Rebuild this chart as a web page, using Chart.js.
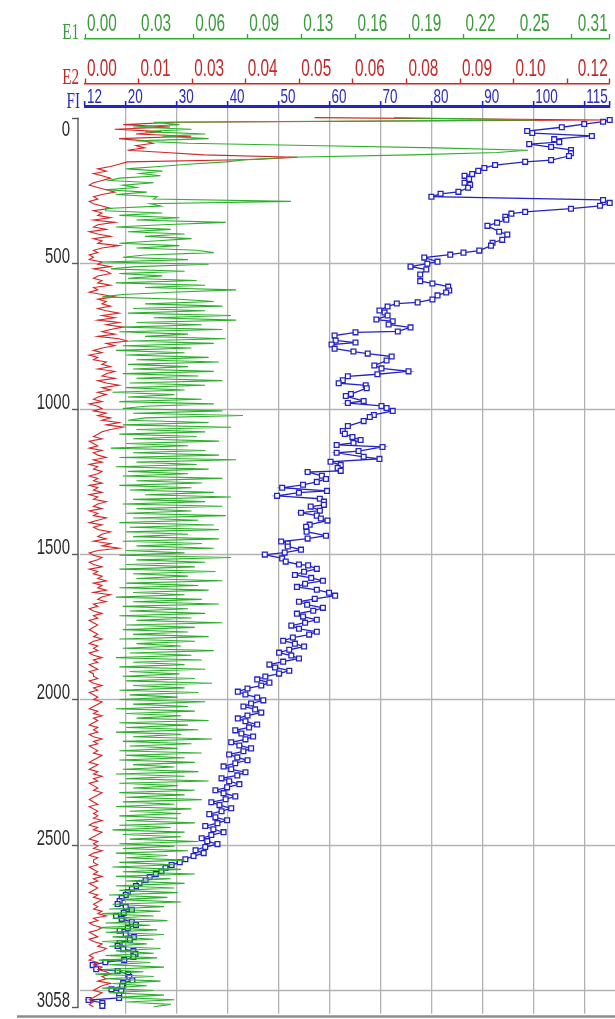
<!DOCTYPE html>
<html>
<head>
<meta charset="utf-8">
<script src="https://cdn.jsdelivr.net/npm/chart.js@4.4.1/dist/chart.umd.min.js"></script>
<style>
  html, body { margin: 0; padding: 0; background: #ffffff; }
  #wrap { position: relative; width: 615px; height: 1019px; }
</style>
</head>
<body>
<div id="wrap"><canvas id="log" width="615" height="1019"></canvas></div>
<script>
// Depth sampling interval of the E1 / E2 curves (m)
const DEPTH_STEP = 8;

// E1 curve, one value per DEPTH_STEP starting at 0 m
const E1_VALUES = [
  0.180,0.262,0.040,0.055,0.028,0.062,0.035,0.070,0.045,0.072,0.030,0.060,0.130,0.205,0.258,0.240,0.190,0.120,0.095,0.082,
  0.060,0.043,0.024,0.045,0.032,0.044,0.020,0.014,0.040,0.022,0.030,0.012,0.036,0.018,0.042,0.040,0.120,0.038,0.044,0.012,
  0.012,0.045,0.020,0.055,0.030,0.082,0.045,0.018,0.050,0.025,0.058,0.035,0.062,0.040,0.020,0.055,0.030,0.065,0.075,0.035,
  0.022,0.060,0.010,0.072,0.030,0.015,0.058,0.020,0.045,0.025,0.065,0.018,0.070,0.035,0.088,0.050,0.022,0.010,0.055,0.075,
  0.035,0.080,0.028,0.070,0.025,0.085,0.040,0.088,0.030,0.068,0.022,0.080,0.020,0.060,0.035,0.082,0.026,0.075,0.022,0.062,
  0.018,0.058,0.024,0.072,0.030,0.078,0.025,0.060,0.028,0.075,0.022,0.066,0.030,0.080,0.026,0.070,0.024,0.058,0.016,0.052,
  0.025,0.068,0.020,0.075,0.035,0.022,0.080,0.028,0.092,0.035,0.025,0.072,0.022,0.085,0.030,0.070,0.020,0.065,0.028,0.078,
  0.024,0.060,0.015,0.070,0.028,0.078,0.020,0.088,0.030,0.065,0.018,0.072,0.025,0.060,0.022,0.080,0.030,0.068,0.020,0.062,
  0.026,0.075,0.035,0.085,0.028,0.070,0.022,0.080,0.030,0.062,0.024,0.082,0.028,0.066,0.020,0.075,0.026,0.078,0.024,0.060,
  0.028,0.078,0.022,0.068,0.030,0.075,0.024,0.058,0.020,0.085,0.030,0.070,0.024,0.064,0.020,0.076,0.028,0.060,0.030,0.080,
  0.024,0.066,0.020,0.072,0.028,0.058,0.018,0.068,0.028,0.078,0.022,0.060,0.026,0.070,0.020,0.062,0.030,0.080,0.024,0.064,
  0.022,0.060,0.028,0.072,0.020,0.064,0.030,0.056,0.022,0.075,0.026,0.062,0.018,0.068,0.028,0.058,0.020,0.070,0.026,0.055,
  0.022,0.064,0.024,0.074,0.028,0.058,0.020,0.066,0.026,0.054,0.020,0.070,0.028,0.060,0.018,0.064,0.024,0.056,0.030,0.072,
  0.020,0.060,0.024,0.066,0.018,0.056,0.028,0.074,0.022,0.062,0.026,0.054,0.020,0.068,0.024,0.058,0.020,0.064,0.028,0.052,
  0.022,0.066,0.018,0.058,0.024,0.072,0.020,0.054,0.028,0.064,0.020,0.058,0.024,0.068,0.022,0.052,0.018,0.062,0.026,0.056,
  0.020,0.054,0.024,0.064,0.020,0.050,0.016,0.058,0.022,0.056,0.026,0.066,0.020,0.052,0.022,0.060,0.018,0.048,0.024,0.058,
  0.020,0.052,0.016,0.056,0.022,0.064,0.018,0.050,0.024,0.058,0.018,0.052,0.020,0.054,0.014,0.048,0.020,0.056,0.016,0.046,
  0.014,0.044,0.010,0.040,0.016,0.048,0.012,0.038,0.008,0.042,0.012,0.046,0.016,0.040,0.010,0.036,0.014,0.044,0.018,0.040,
  0.012,0.042,0.008,0.038,0.014,0.046,0.010,0.034,0.006,0.040,0.012,0.044,0.016,0.036,0.010,0.040,0.014,0.046,0.018,0.052,0.024,0.050,0.040
];

// E2 curve, one value per DEPTH_STEP starting at 0 m
const E2_VALUES = [
  0.054,0.122,0.021,0.009,0.020,0.007,0.018,0.012,0.025,0.008,0.014,0.016,0.012,0.014,0.010,0.019,0.028,0.050,0.040,0.010,
  0.008,0.006,0.003,0.005,0.002,0.004,0.006,0.004,0.002,0.001,0.003,0.005,0.007,0.004,0.002,0.003,0.001,0.002,0.004,0.006,
  0.002,0.004,0.003,0.006,0.002,0.007,0.003,0.002,0.005,0.001,0.003,0.006,0.002,0.004,0.003,0.008,0.004,0.002,0.003,0.001,
  0.002,0.001,0.004,0.003,0.006,0.002,0.005,0.006,0.003,0.002,0.004,0.003,0.006,0.002,0.003,0.001,0.004,0.007,0.003,0.005,
  0.004,0.006,0.003,0.005,0.008,0.004,0.007,0.003,0.008,0.005,0.009,0.006,0.004,0.007,0.003,0.008,0.010,0.005,0.007,0.004,
  0.002,0.004,0.001,0.003,0.002,0.005,0.004,0.006,0.003,0.007,0.005,0.004,0.007,0.003,0.005,0.008,0.004,0.006,0.003,0.005,
  0.003,0.002,0.004,0.001,0.003,0.004,0.002,0.005,0.003,0.006,0.004,0.008,0.005,0.009,0.006,0.004,0.003,0.002,0.004,0.001,
  0.002,0.003,0.001,0.004,0.002,0.003,0.005,0.002,0.004,0.001,0.003,0.002,0.004,0.003,0.001,0.003,0.002,0.004,0.001,0.003,
  0.002,0.004,0.001,0.003,0.002,0.005,0.003,0.002,0.004,0.001,0.003,0.002,0.005,0.003,0.001,0.004,0.002,0.003,0.006,0.004,
  0.003,0.005,0.002,0.006,0.004,0.008,0.003,0.001,0.002,0.004,0.003,0.001,0.002,0.004,0.001,0.003,0.002,0.004,0.003,0.005,
  0.002,0.004,0.003,0.005,0.002,0.006,0.004,0.003,0.005,0.002,0.003,0.001,0.002,0.004,0.002,0.003,0.001,0.002,0.003,0.002,
  0.001,0.002,0.003,0.002,0.004,0.002,0.001,0.003,0.002,0.003,0.001,0.002,0.004,0.002,0.003,0.001,0.002,0.003,0.001,0.002,
  0.002,0.003,0.001,0.002,0.004,0.002,0.003,0.001,0.002,0.003,0.002,0.004,0.003,0.002,0.001,0.003,0.002,0.004,0.002,0.003,
  0.002,0.001,0.003,0.002,0.003,0.001,0.002,0.004,0.002,0.003,0.001,0.002,0.003,0.002,0.004,0.003,0.002,0.001,0.003,0.002,
  0.001,0.003,0.002,0.004,0.002,0.003,0.001,0.002,0.003,0.002,0.004,0.003,0.002,0.001,0.002,0.003,0.001,0.002,0.003,0.002,
  0.003,0.002,0.004,0.002,0.001,0.003,0.002,0.004,0.003,0.002,0.001,0.003,0.002,0.003,0.002,0.004,0.002,0.001,0.003,0.002,
  0.002,0.003,0.001,0.002,0.003,0.002,0.004,0.002,0.003,0.001,0.002,0.003,0.002,0.001,0.003,0.002,0.004,0.003,0.002,0.003,
  0.002,0.004,0.003,0.005,0.002,0.003,0.001,0.002,0.004,0.003,0.001,0.002,0.003,0.001,0.002,0.004,0.003,0.005,0.004,0.002,
  0.001,0.002,0.001,0.003,0.002,0.004,0.003,0.005,0.006,0.004,0.005,0.003,0.006,0.004,0.003,0.002,0.004,0.003,0.002,0.001,0.002,0.001,0.002
];

// FI samples: depth (m) and value
const FI_DEPTHS = [
  8,14,22,33,46,53,63,74,84,91,101,111,122,132,146,152,163,173,183,194,200,211,224,231,241,255,262,272,283,293,
  303,313,324,330,341,351,361,372,392,402,420,430,440,457,464,471,481,495,502,512,522,539,
  562,570,581,594,601,611,625,635,639,649,663,670,680,694,700,711,721,735,738,749,766,773,780,794,804,811,821,835,
  852,862,872,882,889,903,913,920,930,950,957,974,981,991,998,1008,1022,1029,1043,1060,1077,1087,1098,1108,1118,1125,
  1132,1146,1152,1166,1173,1183,1194,1204,1214,1218,1231,1242,1252,1262,1272,1283,1289,1300,1310,1320,1331,1337,1351,
  1358,1368,1378,1385,1399,1406,1423,1437,1447,1457,1464,1474,1485,1495,1502,1515,1526,1536,1539,
  1551,1561,1572,1582,1592,1602,1613,1623,1633,1643,1654,1664,1674,1685,1695,1705,1715,1726,1736,1746,
  1757,1767,1777,1787,1798,1808,1818,1829,1839,1849,1859,1870,1880,1890,1901,1911,1921,1931,1942,1952,
  1962,1973,1983,1993,2003,2014,2024,2034,2045,2055,2065,2075,2086,2096,2106,2117,2127,2137,2147,2158,
  2168,2178,2189,2199,2209,2219,2230,2240,2250,2261,2271,2281,2291,2302,2312,2322,2333,2343,2353,2363,
  2374,2384,2394,2405,2415,2425,2435,2446,2456,2466,2477,2487,2497,2507,2518,2528,2538,2549,2559,2569,
  2579,2590,2600,2610,2621,2631,2641,2651,2662,2672,2682,2693,2703,2713,2723,2734,2744,2754,2765,2775,
  2785,2795,2806,2816,2826,2837,2847,
  2858,2865,2875,2885,2896,2903,2913,2927,2933,2944,2954,2965,2975,2985,2996,3002,3016,3026,3033,3043,3053
];
const FI_VALUES = [
  115.0,113.7,110.0,105.6,98.8,99.8,111.5,104.1,105.1,99.2,103.5,107.4,107.4,107.0,103.5,98.4,92.5,90.4,89.2,88.0,86.5,87.4,86.5,87.6,87.2,85.3,81.8,80.0,113.7,115.0,
  113.1,107.4,98.4,95.7,94.5,94.7,92.9,91.0,93.3,94.9,93.9,92.0,91.7,89.4,86.3,83.7,78.6,81.2,79.2,75.9,79.0,77.8,
  77.8,80.2,83.3,83.5,82.9,81.2,80.2,77.3,73.2,71.4,69.8,70.8,71.4,69.2,72.4,71.6,75.9,73.4,65.1,61.0,61.2,65.1,60.4,61.0,64.7,67.5,72.2,71.2,
  68.8,70.2,75.5,69.4,63.6,62.6,61.8,67.1,67.3,64.2,63.2,66.7,63.6,70.2,71.2,72.4,68.7,67.9,66.7,63.6,62.6,63.0,64.5,66.1,64.7,61.4,
  70.4,65.7,61.4,66.7,69.8,60.2,62.2,61.6,62.2,55.7,58.5,59.3,57.5,54.8,50.7,59.5,54.0,49.7,58.1,58.9,58.9,56.3,58.1,
  54.4,57.5,58.3,59.6,56.1,55.4,55.5,59.3,55.7,50.5,51.8,51.8,54.4,51.2,47.3,50.7,51.4,54.0,55.8,
  57.5,55.0,53.2,56.4,58.7,55.2,53.6,57.5,59.9,61.1,57.1,54.0,55.6,58.7,56.8,53.6,54.8,57.5,55.2,52.5,
  54.0,57.5,56.0,52.8,50.9,53.2,55.0,52.1,50.1,52.5,54.0,50.9,48.2,49.3,52.1,50.1,47.4,45.8,48.2,46.6,
  43.9,42.0,43.5,45.8,47.0,44.6,43.1,45.4,46.6,43.9,42.0,43.5,45.8,44.2,41.5,42.7,45.0,43.5,40.7,42.3,
  44.6,43.1,40.3,41.9,43.9,41.5,39.2,40.7,43.5,41.9,38.8,40.3,42.3,39.9,37.6,39.2,41.5,39.6,36.8,38.4,
  40.7,38.8,36.4,37.6,39.9,38.0,35.6,37.2,39.2,36.8,34.9,36.0,38.0,35.6,33.7,35.3,33.3,31.7,30.6,29.0,
  27.8,27.0,25.9,24.7,23.9,22.7,22.0,21.2,20.4,20.0,19.2,18.8,18.4,20.0,21.2,19.6,18.1,19.2,21.2,22.0,
  20.4,18.8,20.0,21.6,20.8,18.8,18.4,
  19.5,21.5,21.9,21.5,19.7,16.0,13.5,14.2,18.4,20.5,20.7,21.3,19.5,19.3,17.2,19.1,18.7,18.7,12.7,15.4,15.4
];

// Axis ticks and their printed labels
const E1_TICKS  = [0, 0.0315, 0.063, 0.0945, 0.126, 0.1575, 0.189, 0.2205, 0.252, 0.2835, 0.3056];
const E1_LABELS = ['0.00','0.03','0.06','0.09','0.13','0.16','0.19','0.22','0.25','','0.31'];
const E2_TICKS  = [0, 0.0126, 0.0252, 0.0378, 0.0504, 0.063, 0.0756, 0.0882, 0.1008, 0.1134, 0.1234];
const E2_LABELS = ['0.00','0.01','0.03','0.04','0.05','0.06','0.08','0.09','0.10','','0.12'];
const FI_TICKS  = [12, 20, 30, 40, 50, 60, 70, 80, 90, 100, 110, 115];
const FI_LABELS = ['12','20','30','40','50','60','70','80','90','100','','115'];
const DEPTH_TICKS  = [0, 500, 1000, 1500, 2000, 2500, 3000, 3058];
const DEPTH_LABELS = ['0','500','1000','1500','2000','2500','','3058'];

const GREEN = '#2eb02e', RED = '#d42424', BLUE = '#2323c8';
const GREEN_TXT = '#3a9c3a', RED_TXT = '#c22a2a', BLUE_TXT = '#2a2ac0';
const GRID = '#b2b2b2';
const CLEAR = 'rgba(0,0,0,0)';

const e1Points = E1_VALUES.map((v, i) => ({ x: v, y: i * DEPTH_STEP }));
const e2Points = E2_VALUES.map((v, i) => ({ x: v, y: i * DEPTH_STEP }));
const fiPoints = FI_VALUES.map((v, i) => ({ x: v, y: FI_DEPTHS[i] }));

function setTicks(list) {
  return scale => { scale.ticks = list.map(v => ({ value: v })); };
}

// Condensed text helper (horizontal squeeze)
function squeezeText(ctx, s, x, y, align, color, font, sx) {
  ctx.save();
  ctx.translate(x, y);
  ctx.scale(sx, 1);
  ctx.font = font;
  ctx.fillStyle = color;
  ctx.textAlign = align;
  ctx.textBaseline = 'alphabetic';
  ctx.fillText(s, 0, 0);
  ctx.restore();
}

const depthGridPlugin = {
  id: 'depthGrid',
  beforeDatasetsDraw(chart) {
    const ctx = chart.ctx, y = chart.scales.y;
    ctx.save();
    ctx.strokeStyle = GRID;
    ctx.lineWidth = 1.3;
    DEPTH_TICKS.forEach(v => {
      if (v === 0 || v === 3058) return;
      const py = Math.round(y.getPixelForValue(v)) + 0.5;
      ctx.beginPath();
      ctx.moveTo(80, py);
      ctx.lineTo(chart.width, py);
      ctx.stroke();
    });
    ctx.restore();
  }
};

const axisTextPlugin = {
  id: 'axisText',
  afterDraw(chart) {
    const ctx = chart.ctx;
    const sc = chart.scales;

    // top scale labels, left-aligned on their ticks, last one flush right
    const tops = [
      { s: sc.xE1, ticks: E1_TICKS, labels: E1_LABELS, base: 31, color: GREEN_TXT, font: '24px "Liberation Sans"', sx: 0.64 },
      { s: sc.xE2, ticks: E2_TICKS, labels: E2_LABELS, base: 76, color: RED_TXT, font: '24px "Liberation Sans"', sx: 0.64 },
      { s: sc.xFI, ticks: FI_TICKS, labels: FI_LABELS, base: 103, color: BLUE_TXT, font: '21px "Liberation Sans"', sx: 0.64 }
    ];
    tops.forEach(t => {
      t.ticks.forEach((v, i) => {
        const lab = t.labels[i];
        if (!lab) return;
        const px = t.s.getPixelForValue(v);
        if (i === t.ticks.length - 1) {
          squeezeText(ctx, lab, px - 2, t.base, 'right', t.color, t.font, t.sx);
        } else {
          squeezeText(ctx, lab, px + 2, t.base, 'left', t.color, t.font, t.sx);
        }
      });
    });

    // axis names
    squeezeText(ctx, 'E1', 79, 39, 'right', GREEN_TXT, '23px "Liberation Serif"', 0.66);
    squeezeText(ctx, 'E2', 79, 84, 'right', RED_TXT, '23px "Liberation Serif"', 0.66);
    squeezeText(ctx, 'FI', 80, 108, 'right', BLUE_TXT, '23px "Liberation Serif"', 0.66);

    // depth axis
    const y = sc.y;
    const yTop = y.getPixelForValue(0), yBot = y.getPixelForValue(3058);
    ctx.save();
    ctx.strokeStyle = '#5a5a5a';
    ctx.lineWidth = 1.4;
    ctx.beginPath();
    ctx.moveTo(78, yTop);
    ctx.lineTo(78, yBot);
    ctx.stroke();
    DEPTH_TICKS.forEach((v, i) => {
      const lab = DEPTH_LABELS[i];
      if (!lab) return;
      const py = Math.round(y.getPixelForValue(v)) + 0.5;
      ctx.beginPath();
      ctx.moveTo(72, py);
      ctx.lineTo(78.7, py);
      ctx.stroke();
      const base = v === 0 ? py + 17 : py - 1;
      squeezeText(ctx, lab, 70, base, 'right', '#2b2b2b', '22px "Liberation Sans"', 0.68);
    });
    // bottom frame line
    ctx.strokeStyle = '#8c8c8c';
    ctx.lineWidth = 2.5;
    ctx.beginPath();
    ctx.moveTo(17, 1016.5);
    ctx.lineTo(615, 1016.5);
    ctx.stroke();
    ctx.restore();
  }
};

new Chart(document.getElementById('log'), {
  type: 'scatter',
  data: {
    datasets: [
      { label: 'E1', data: e1Points, xAxisID: 'xE1', yAxisID: 'y', showLine: true,
        borderColor: GREEN, borderWidth: 1.1, pointRadius: 0, tension: 0 },
      { label: 'E2', data: e2Points, xAxisID: 'xE2', yAxisID: 'y', showLine: true,
        borderColor: RED, borderWidth: 1.1, pointRadius: 0, tension: 0 },
      { label: 'FI', data: fiPoints, xAxisID: 'xFI', yAxisID: 'y', showLine: true,
        borderColor: BLUE, borderWidth: 1.3, tension: 0, clip: 6,
        pointStyle: 'rect', pointRadius: 3.4, pointBorderWidth: 1.3,
        pointBorderColor: BLUE, pointBackgroundColor: '#ffffff' }
    ]
  },
  options: {
    responsive: false,
    animation: false,
    devicePixelRatio: 1,
    layout: { padding: { left: 85, right: 3, top: 0, bottom: 3 } },
    plugins: { legend: { display: false }, tooltip: { enabled: false } },
    scales: {
      y: { type: 'linear', display: false, reverse: true, min: -40, max: 3080 },
      xE1: {
        type: 'linear', position: 'top', weight: 2, min: 0, max: 0.3056,
        afterBuildTicks: setTicks(E1_TICKS), afterFit: s => { s.height = 39; },
        ticks: { display: false },
        grid: { drawOnChartArea: false, drawTicks: true, tickLength: 5, tickColor: GREEN, tickWidth: 1.4 },
        border: { display: true, color: GREEN, width: 1.6 }
      },
      xE2: {
        type: 'linear', position: 'top', weight: 1, min: 0, max: 0.1234,
        afterBuildTicks: setTicks(E2_TICKS), afterFit: s => { s.height = 44.5; },
        ticks: { display: false },
        grid: { drawOnChartArea: false, drawTicks: true, tickLength: 5, tickColor: RED, tickWidth: 1.4 },
        border: { display: true, color: RED, width: 1.6 }
      },
      xFI: {
        type: 'linear', position: 'top', weight: 0, min: 12, max: 115,
        afterBuildTicks: setTicks(FI_TICKS), afterFit: s => { s.height = 22.5; },
        ticks: { display: false },
        grid: {
          drawOnChartArea: true, drawTicks: true, tickLength: 5, tickWidth: 1.6, tickColor: BLUE,
          lineWidth: 1.3,
          color: c => (c.tick && c.tick.value > 12 && c.tick.value < 115) ? GRID : CLEAR
        },
        border: { display: true, color: BLUE, width: 3 }
      }
    }
  },
  plugins: [depthGridPlugin, axisTextPlugin]
});
</script>
</body>
</html>
